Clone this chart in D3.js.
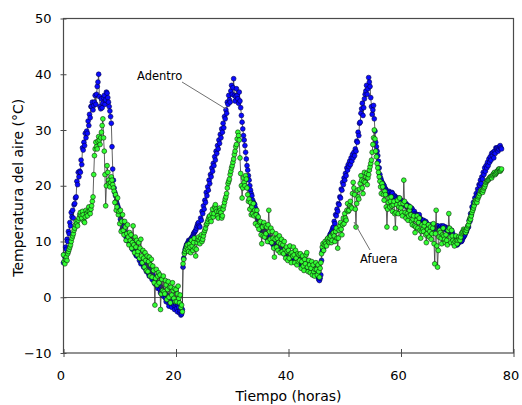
<!DOCTYPE html>
<html>
<head>
<meta charset="utf-8">
<script src="https://cdn.jsdelivr.net/npm/d3@7"></script>
<style>
  html, body { margin: 0; padding: 0; background: #fff; }
  svg { display: block; }
  text { font-family: "DejaVu Sans", Verdana, sans-serif; fill: #000; }
</style>
</head>
<body>
<svg id="chart" width="522" height="405"></svg>
<script>
// ---- data: one reading every 7.5 min (8 per hour), starting at hour 0 ----
const stepHours = 0.125;

// Adentro (inside), one row per hour
const adentro = [
  6.2, 7.6, 7.2, 9.0, 8.6, 10.4, 10.0, 11.8,
  11.4, 13.4, 12.8, 15.2, 14.4, 15.6, 14.2, 16.6,
  16.8, 17.8, 18.0, 20.8, 20.2, 22.4, 21.6, 22.6,
  22.4, 24.6, 23.8, 26.8, 26.4, 27.8, 27.2, 29.4,
  28.6, 29.8, 29.4, 31.6, 30.8, 32.8, 32.2, 34.2,
  34.2, 35.0, 33.6, 34.4, 35.0, 36.2, 34.6, 36.4,
  37.8, 38.6, 40.0, 36.0, 34.2, 33.8, 35.6, 34.0,
  34.8, 35.8, 36.2, 34.6, 35.4, 36.8, 36.6, 35.8,
  35.0, 34.2, 33.4, 32.4, 31.2, 27.0, 23.0, 21.0,
  19.6, 18.8, 18.2, 17.2, 16.8, 16.4, 16.0, 15.2,
  14.8, 14.0, 13.2, 12.0, 12.4, 13.4, 12.8, 11.8,
  11.4, 10.8, 10.2, 11.2, 10.8, 10.0, 9.6, 10.4,
  9.8, 9.2, 8.6, 9.8, 9.2, 8.4, 8.0, 7.6,
  7.4, 8.6, 8.2, 7.2, 6.6, 7.0, 6.0, 6.4,
  6.8, 6.0, 5.4, 6.2, 5.8, 5.0, 4.6, 5.4,
  4.8, 4.2, 3.8, 4.4, 5.0, 3.8, 3.2, 4.0,
  3.6, 2.8, 2.4, 3.2, 2.8, 2.0, 1.6, 2.6,
  2.2, 1.4, 0.8, 1.8, 1.4, 0.4, 0.2, 1.0,
  0.6, -0.2, -0.8, 0.4, -0.2, -1.0, -1.6, -0.8,
  -0.4, -1.2, -1.8, -1.0, -0.6, -1.4, -2.2, -1.6,
  -1.2, -2.0, -2.6, -1.4, -1.8, -2.8, -2.4, -3.2,
  -3.0, -2.2, 5.4, 7.0, 8.0, 8.6, 9.0, 9.4,
  9.6, 9.8, 10.2, 10.0, 9.8, 10.4, 10.6, 10.8,
  11.0, 11.4, 11.6, 11.8, 12.0, 12.4, 12.8, 13.2,
  13.4, 12.8, 12.6, 14.2, 13.8, 15.4, 15.0, 16.4,
  15.8, 17.4, 17.0, 18.8, 18.2, 19.8, 19.2, 21.0,
  20.4, 22.0, 21.6, 23.2, 22.6, 24.0, 23.6, 25.2,
  24.6, 26.2, 25.8, 27.2, 26.6, 28.2, 27.6, 29.2,
  28.6, 30.2, 29.6, 31.2, 30.4, 32.4, 32.0, 33.6,
  33.0, 35.0, 34.6, 36.2, 35.4, 35.0, 37.0, 38.0,
  36.4, 37.6, 39.2, 36.2, 35.2, 36.0, 37.4, 36.2,
  35.6, 34.8, 36.8, 35.2, 34.0, 32.6, 31.4, 30.2,
  29.0, 28.2, 27.2, 26.0, 24.8, 23.6, 22.8, 21.8,
  21.0, 20.0, 19.2, 18.6, 18.2, 17.4, 17.0, 16.8,
  16.6, 16.0, 15.6, 14.8, 14.2, 13.6, 13.0, 12.8,
  12.6, 12.2, 12.0, 11.6, 11.4, 12.0, 11.8, 11.2,
  10.8, 11.0, 10.4, 10.2, 10.0, 10.8, 10.6, 10.2,
  9.8, 10.2, 9.4, 9.6, 10.0, 9.4, 9.0, 9.4,
  9.2, 8.8, 8.6, 9.0, 8.8, 8.4, 8.2, 8.8,
  8.6, 8.2, 7.8, 8.4, 8.0, 7.6, 7.4, 8.0,
  7.8, 7.4, 7.0, 7.6, 7.4, 7.0, 6.8, 7.2,
  7.0, 6.6, 6.4, 7.0, 6.8, 6.4, 6.2, 6.8,
  6.6, 6.2, 5.8, 6.4, 6.2, 5.8, 5.4, 6.0,
  5.8, 5.4, 5.2, 5.8, 5.6, 5.0, 4.8, 5.6,
  5.4, 5.0, 4.6, 5.2, 5.0, 4.6, 4.2, 4.8,
  4.6, 4.0, 3.6, 3.2, 3.0, 3.4, 4.0, 6.6,
  8.2, 8.6, 9.0, 9.4, 9.6, 9.8, 10.0, 10.2,
  10.4, 10.6, 10.8, 11.2, 11.4, 11.6, 12.0, 12.4,
  12.6, 13.6, 13.2, 14.8, 14.6, 15.8, 15.4, 16.8,
  16.6, 18.0, 17.8, 19.4, 19.2, 20.6, 20.2, 21.4,
  21.0, 22.2, 21.8, 23.2, 22.8, 23.8, 23.4, 24.4,
  23.8, 25.0, 24.4, 25.6, 25.0, 26.0, 25.4, 26.6,
  26.2, 28.0, 27.8, 29.6, 29.0, 31.2, 31.4, 33.0,
  33.8, 34.8, 32.6, 34.0, 35.6, 36.4, 37.0, 38.0,
  36.4, 37.4, 39.4, 38.6, 37.8, 35.8, 34.2, 32.8,
  33.6, 34.4, 32.0, 29.8, 27.8, 27.0, 26.2, 25.4,
  24.4, 23.2, 22.0, 21.4, 21.0, 20.6, 20.4, 20.2,
  20.0, 19.6, 19.4, 19.2, 19.0, 18.4, 18.6, 19.0,
  18.8, 18.4, 18.2, 18.8, 18.6, 18.0, 17.8, 18.2,
  18.0, 17.8, 17.6, 17.2, 17.2, 17.8, 17.6, 17.0,
  17.4, 17.0, 16.8, 17.2, 17.0, 16.6, 16.4, 16.8,
  16.6, 16.2, 16.0, 16.4, 16.2, 15.8, 15.6, 16.0,
  15.8, 15.4, 15.2, 15.4, 15.0, 14.8, 14.6, 14.8,
  14.4, 14.6, 14.8, 14.2, 14.0, 13.8, 13.6, 13.8,
  13.8, 13.4, 13.2, 13.6, 13.4, 13.0, 12.8, 12.6,
  12.6, 12.8, 13.0, 12.6, 12.4, 12.6, 12.8, 12.4,
  12.2, 12.4, 12.6, 12.8, 12.8, 12.4, 12.2, 12.4,
  12.6, 12.8, 12.4, 12.6, 12.8, 12.4, 12.2, 12.6,
  12.4, 12.2, 12.0, 12.4, 12.2, 11.8, 11.6, 11.8,
  12.0, 11.6, 11.2, 10.8, 10.4, 10.0, 9.6, 9.4,
  9.4, 9.6, 9.8, 10.0, 10.2, 10.0, 10.0, 10.2,
  10.6, 10.8, 11.0, 11.2, 11.6, 11.8, 12.2, 12.6,
  12.6, 13.8, 13.6, 15.0, 14.8, 16.2, 15.8, 17.0,
  16.6, 17.8, 17.4, 18.6, 18.2, 19.4, 19.0, 20.2,
  20.0, 21.0, 20.4, 21.6, 21.2, 22.4, 22.0, 23.2,
  22.6, 23.6, 23.2, 24.2, 23.6, 24.8, 24.2, 25.2,
  24.6, 25.8, 25.4, 26.0, 25.0, 26.2, 25.8, 26.8,
  26.6, 26.8, 26.2, 26.6, 27.0, 27.2, 26.8, 26.6
];

// Afuera (outside), one row per hour
const afuera = [
  7.6, 6.4, 6.0, 6.8, 7.2, 6.6, 7.8, 8.2,
  8.6, 9.0, 9.4, 10.0, 10.6, 11.0, 11.4, 12.0,
  12.4, 13.0, 13.6, 13.2, 12.8, 13.8, 14.2, 14.8,
  15.2, 14.6, 14.2, 15.4, 14.8, 13.6, 13.4, 14.4,
  15.6, 15.0, 14.6, 15.4, 16.2, 15.4, 15.0, 15.8,
  16.4, 17.2, 18.0, 22.0, 25.4, 26.6, 27.8, 27.0,
  26.6, 28.0, 28.8, 28.2, 27.4, 28.6, 29.6, 30.8,
  32.0, 28.6, 26.2, 22.0, 16.4, 20.0, 23.6, 22.4,
  21.0, 20.4, 19.8, 20.6, 21.6, 21.0, 20.2, 19.6,
  19.0, 17.0, 18.4, 15.6, 16.2, 17.8, 14.8, 15.4,
  13.2, 15.6, 11.8, 13.6, 14.8, 12.0, 11.2, 13.6,
  12.6, 10.2, 11.4, 13.0, 10.8, 9.4, 11.6, 10.2,
  11.2, 8.8, 9.8, 12.8, 9.4, 8.0, 10.8, 9.0,
  10.2, 7.6, 8.2, 9.8, 7.0, 8.8, 10.4, 7.4,
  6.2, 8.4, 7.0, 5.4, 8.0, 6.6, 4.8, 7.4,
  4.6, 6.4, 7.2, 3.8, 5.8, 6.8, 3.6, 5.6,
  4.8, 2.6, -1.4, 3.4, 5.0, 2.2, 3.8, 4.4,
  2.6, 4.0, -2.2, 0.6, 3.2, 1.2, 3.8, 1.0,
  0.6, 3.0, 2.2, -0.4, 1.4, 2.8, 0.0, 1.8,
  -1.0, 1.8, 0.4, 2.6, 1.2, -0.2, 1.6, -0.8,
  1.4, -0.8, 0.6, 2.0, -0.2, -1.0, 0.4, -1.8,
  -1.4, -2.6, 6.0, 6.8, 7.8, 8.2, 8.6, 9.0,
  9.4, 8.6, 8.2, 9.6, 9.0, 8.0, 10.2, 9.2,
  8.4, 9.8, 10.6, 8.8, 7.4, 8.6, 9.8, 10.4,
  10.8, 10.2, 9.6, 10.6, 11.2, 10.0, 10.4, 11.0,
  11.6, 12.0, 12.4, 13.0, 13.2, 13.6, 14.0, 14.4,
  14.6, 14.0, 13.6, 15.0, 15.8, 14.4, 15.0, 16.2,
  16.6, 15.8, 15.4, 14.6, 14.2, 15.4, 16.0, 15.6,
  15.2, 14.2, 14.6, 15.8, 16.4, 17.0, 17.6, 18.0,
  18.6, 19.6, 20.4, 20.8, 21.2, 22.0, 22.6, 23.2,
  23.6, 24.2, 24.8, 25.6, 26.2, 27.0, 27.4, 28.4,
  29.6, 29.0, 28.2, 25.0, 22.2, 20.0, 17.8, 19.6,
  21.4, 20.6, 20.0, 21.8, 21.2, 19.6, 18.4, 17.2,
  17.6, 15.8, 17.0, 14.8, 16.2, 15.0, 16.8, 14.6,
  15.6, 13.2, 14.8, 15.6, 12.8, 14.4, 12.2, 13.4,
  13.6, 11.2, 9.6, 12.6, 11.0, 13.4, 10.8, 12.8,
  11.4, 12.6, 10.0, 13.0, 15.6, 11.8, 10.4, 12.4,
  9.8, 11.8, 10.6, 8.8, 7.2, 10.4, 11.4, 9.0,
  10.6, 8.4, 9.8, 11.0, 8.0, 9.6, 10.4, 8.2,
  9.4, 7.8, 10.0, 8.6, 7.0, 9.0, 8.2, 6.6,
  8.4, 7.0, 9.2, 7.8, 6.2, 8.0, 7.4, 9.0,
  7.6, 6.2, 8.4, 7.0, 5.8, 7.8, 6.4, 7.6,
  6.6, 7.8, 5.2, 6.4, 7.4, 5.6, 4.8, 6.8,
  6.0, 7.6, 8.0, 5.4, 4.6, 6.6, 5.8, 4.4,
  5.2, 6.4, 4.0, 5.8, 4.6, 3.8, 5.0, 6.2,
  5.0, 4.0, 5.8, 4.6, 3.6, 5.2, 6.2, 7.8,
  9.0, 9.6, 8.4, 9.4, 10.0, 9.6, 9.2, 10.4,
  10.6, 10.0, 9.8, 10.6, 11.0, 9.8, 10.2, 11.4,
  11.6, 11.0, 10.0, 11.8, 12.4, 10.6, 8.8, 10.6,
  12.0, 12.8, 13.4, 12.2, 11.2, 13.0, 14.2, 13.2,
  15.0, 14.2, 13.8, 15.6, 16.8, 15.4, 15.6, 16.4,
  17.2, 16.2, 16.0, 18.6, 20.6, 19.6, 18.4, 15.8,
  12.6, 16.8, 19.2, 18.0, 17.6, 19.4, 20.4, 21.8,
  21.0, 19.6, 18.6, 20.8, 22.4, 20.6, 21.6, 22.2,
  20.2, 21.4, 22.0, 22.8, 23.4, 24.0, 24.6, 26.0,
  27.4, 28.6, 30.0, 28.4, 26.2, 25.2, 24.0, 23.2,
  22.4, 21.6, 20.8, 19.8, 18.6, 20.4, 19.8, 18.4,
  17.4, 19.0, 18.4, 16.2, 12.6, 15.8, 17.0, 17.8,
  16.2, 17.2, 18.0, 16.4, 15.4, 16.6, 17.2, 15.0,
  12.4, 15.2, 16.6, 17.4, 15.0, 16.2, 17.8, 16.8,
  16.0, 15.2, 14.6, 16.8, 21.0, 17.2, 15.2, 14.2,
  16.4, 15.0, 13.8, 14.6, 15.6, 16.2, 14.8, 13.6,
  13.0, 14.0, 14.6, 12.8, 11.6, 12.6, 13.8, 14.6,
  12.4, 13.4, 14.2, 12.0, 10.6, 11.8, 13.0, 12.2,
  11.8, 12.8, 13.4, 11.2, 9.8, 11.4, 12.2, 13.0,
  10.8, 11.8, 12.6, 10.4, 11.4, 12.4, 13.2, 9.6,
  6.0, 11.4, 15.6, 9.2, 5.4, 8.4, 10.8, 12.0,
  11.6, 10.6, 9.6, 11.2, 12.4, 11.0, 10.4, 9.8,
  11.2, 10.2, 9.4, 12.0, 15.0, 12.4, 10.8, 9.8,
  12.0, 11.0, 10.2, 9.6, 9.2, 10.0, 11.0, 10.2,
  9.6, 10.2, 10.8, 10.4, 10.2, 10.8, 11.4, 11.6,
  11.8, 12.2, 12.0, 11.8, 11.6, 12.0, 12.4, 12.8,
  13.0, 13.6, 14.2, 14.0, 14.6, 15.2, 15.6, 16.0,
  16.4, 17.0, 17.4, 17.2, 17.0, 17.6, 18.0, 18.2,
  18.6, 19.0, 19.2, 19.0, 18.8, 19.2, 19.6, 19.8,
  20.2, 20.6, 20.8, 21.0, 21.0, 21.2, 21.4, 21.6,
  21.6, 21.4, 21.8, 22.0, 22.2, 22.4, 22.0, 22.2,
  22.4, 22.6, 22.8, 23.0, 23.0, 22.6, 22.8, 23.0
];

const xTicks = [0, 20, 40, 60, 80];
const yTicks = [-10, 0, 10, 20, 30, 40, 50];
const xTitle = "Tiempo (horas)";
const yTitle = "Temperatura del aire (°C)";
const labelAdentro = "Adentro";
const labelAfuera = "Afuera";

// ---- layout ----
const svg = d3.select("#chart");
const L = 63.5, R = 513.5, T = 18.5, B = 353;
const x = d3.scaleLinear().domain([0, 80]).range([L, R]);
const y = d3.scaleLinear().domain([-10, 50]).range([B, T]);

const toPts = arr => arr.map((v, i) => ({ t: i * stepHours, v }));
const dataIn = toPts(adentro);
const dataOut = toPts(afuera);

// zero line
svg.append("line")
  .attr("x1", L).attr("x2", R)
  .attr("y1", Math.round(y(0)) + 0.5).attr("y2", Math.round(y(0)) + 0.5)
  .attr("stroke", "#5a5a5a").attr("stroke-width", 1.2);

// frame
svg.append("rect")
  .attr("x", L).attr("y", T).attr("width", R - L).attr("height", B - T)
  .attr("fill", "none").attr("stroke", "#4a4a4a").attr("stroke-width", 1.2);

// axes with ticks crossing the frame
const gx = svg.append("g").attr("transform", `translate(0,${B})`)
  .call(d3.axisBottom(x).tickValues(xTicks).tickSize(4).tickSizeOuter(0).tickPadding(14));
gx.select(".domain").remove();
gx.selectAll(".tick line").attr("y1", -4).attr("y2", 4).attr("stroke", "#4a4a4a");
gx.selectAll(".tick text").attr("font-size", 13).attr("dx", -3)
  .style("font-family", '"DejaVu Sans", Verdana, sans-serif');

const gy = svg.append("g").attr("transform", `translate(${L},0)`)
  .call(d3.axisLeft(y).tickValues(yTicks).tickSize(3).tickSizeOuter(0).tickPadding(9));
gy.select(".domain").remove();
gy.selectAll(".tick line").attr("x1", -3).attr("x2", 3).attr("stroke", "#4a4a4a");
gy.selectAll(".tick text").attr("font-size", 13)
  .style("font-family", '"DejaVu Sans", Verdana, sans-serif');

// titles
svg.append("text").attr("x", (L + R) / 2).attr("y", 401)
  .attr("text-anchor", "middle").attr("font-size", 14).text(xTitle);
svg.append("text")
  .attr("transform", `translate(23,${(T + B) / 2 + 2}) rotate(-90)`)
  .attr("text-anchor", "middle").attr("font-size", 14).text(yTitle);

// series
const line = d3.line().x(d => x(d.t)).y(d => y(d.v));
function drawSeries(data, fill, stroke) {
  svg.append("path").datum(data)
    .attr("d", line).attr("fill", "none")
    .attr("stroke", "#3a3a3a").attr("stroke-width", 0.8);
  svg.append("g").selectAll("circle").data(data).join("circle")
    .attr("cx", d => x(d.t)).attr("cy", d => y(d.v)).attr("r", 2.4)
    .attr("fill", fill).attr("stroke", stroke).attr("stroke-width", 0.6);
}
drawSeries(dataIn, "#0a0aff", "#00004a");
drawSeries(dataOut, "#33ff33", "#0a2a0a");

// annotations
svg.append("line").attr("x1", 182).attr("y1", 82).attr("x2", 226).attr("y2", 109)
  .attr("stroke", "#707070").attr("stroke-width", 1);
svg.append("text").attr("x", 137).attr("y", 80).attr("font-size", 11.5).text(labelAdentro);
svg.append("line").attr("x1", 370).attr("y1", 250).attr("x2", 354).attr("y2", 222)
  .attr("stroke", "#707070").attr("stroke-width", 1);
svg.append("text").attr("x", 360).attr("y", 263).attr("font-size", 11.5).text(labelAfuera);
</script>
</body>
</html>
